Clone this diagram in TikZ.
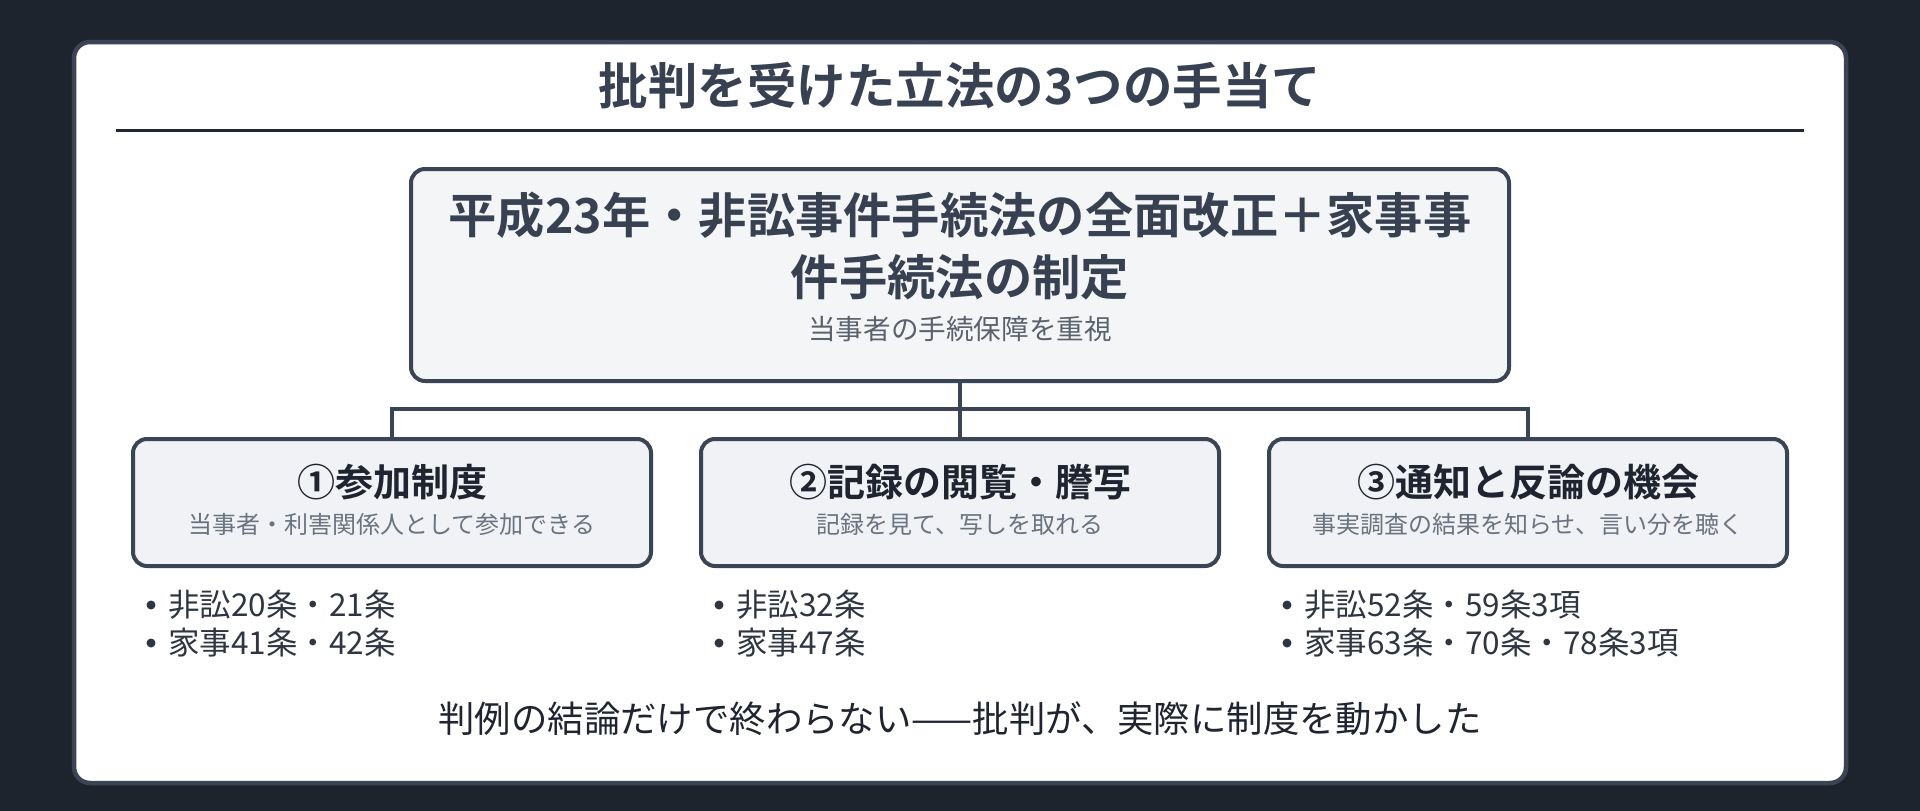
\documentclass[tikz,border=0pt]{standalone}
\usepackage{fontspec}
\setmainfont{Noto Sans CJK JP}[BoldFont={Noto Sans CJK JP Bold}]
\usetikzlibrary{arrows.meta}
\definecolor{bgc}{HTML}{1E242E}
\definecolor{edgec}{HTML}{3B4454}
\definecolor{topfill}{HTML}{F4F5F6}
\definecolor{childfill}{HTML}{F0F2F5}
\definecolor{titlec}{HTML}{374151}
\definecolor{headc}{HTML}{1F2430}
\definecolor{subc}{HTML}{6B7280}
\definecolor{itemc}{HTML}{2F3642}
\tikzset{
  card/.style={draw=edgec, fill=white, line width=4.5pt, rounded corners=16pt,
    minimum width=1772pt, minimum height=741pt, inner sep=0pt},
  topbox/.style={draw=edgec, fill=topfill, line width=4pt, rounded corners=14pt,
    minimum width=1098pt, minimum height=212pt, inner sep=0pt},
  childbox/.style={draw=edgec, fill=childfill, line width=4pt, rounded corners=14pt,
    minimum width=518pt, minimum height=127pt, inner sep=0pt},
  conn/.style={draw=edgec, line width=3.5pt},
  arr/.style={conn, -{Triangle[width=22pt,length=7pt]}, shorten >=-4pt},
  maintitle/.style={font=\fontsize{49.5}{59}\selectfont\bfseries, text=titlec, inner sep=0pt},
  toptext/.style={font=\fontsize{48.3}{58}\selectfont\bfseries, text=titlec, inner sep=0pt},
  topsub/.style={font=\fontsize{27.6}{33}\selectfont, text=subc!85!black, inner sep=0pt},
  childhead/.style={font=\fontsize{38}{46}\selectfont\bfseries, text=headc, inner sep=0pt},
  childsub/.style={font=\fontsize{24}{29}\selectfont, text=subc, inner sep=0pt},
  item/.style={font=\fontsize{31.5}{38}\selectfont, text=itemc, inner sep=0pt, anchor=west},
  footer/.style={font=\fontsize{36.4}{44}\selectfont, text=headc, inner sep=0pt},
  rule/.style={draw=headc!90!edgec, line width=3pt}
}
\begin{document}
\begin{tikzpicture}[x=1pt,y=-1pt]
\useasboundingbox (0,0) rectangle (1920,811);
\fill[bgc] (0,0) rectangle (1920,811);
\node[card] (card) at (960,412.5) {};
\node[maintitle] (title) at (960,86) {批判を受けた立法の3つの手当て};
\coordinate (ruleL) at (116,130);
\coordinate (ruleR) at (1804,130);
\draw[rule] (ruleL) -- (ruleR);

% connectors first, boxes drawn over them
\coordinate (topS) at (960,381);
\coordinate (hub) at (960,409);
\coordinate (c1N) at (392,439);
\coordinate (c2N) at (960,439);
\coordinate (c3N) at (1528,439);
\draw[conn] (topS) -- (hub);
\draw[arr] (hub) -| ([yshift=-2pt]c1N);
\draw[arr] (hub) -- ([yshift=-2pt]c2N);
\draw[arr] (hub) -| ([yshift=-2pt]c3N);

\node[topbox] (top) at (960,275) {};
\node[toptext] (topl1) at (960,215) {平成23年・非訟事件手続法の全面改正＋家事事};
\node[toptext] (topl2) at (960,277) {件手続法の制定};
\node[topsub] (topsub) at (960,329) {当事者の手続保障を重視};

\node[childbox] (c1) at (392,502.5) {};
\node[childbox] (c2) at (960,502.5) {};
\node[childbox] (c3) at (1528,502.5) {};

\node[childhead] (h1) at (392,482) {①参加制度};
\node[childsub] (s1) at (392,524) {当事者・利害関係人として参加できる};
\node[childhead] (h2) at (960,482) {②記録の閲覧・謄写};
\node[childsub] (s2) at (960,524) {記録を見て、写しを取れる};
\node[childhead] (h3) at (1528,482) {③通知と反論の機会};
\node[childsub] (s3) at (1528,524) {事実調査の結果を知らせ、言い分を聴く};

% bullet lists
\fill[itemc] (151,605) circle (4.5pt);
\node[item] (i11) at (168,605) {非訟20条・21条};
\fill[itemc] (151,643) circle (4.5pt);
\node[item] (i12) at (168,643) {家事41条・42条};
\fill[itemc] (719,605) circle (4.5pt);
\node[item] (i21) at (736,605) {非訟32条};
\fill[itemc] (719,643) circle (4.5pt);
\node[item] (i22) at (736,643) {家事47条};
\fill[itemc] (1287,605) circle (4.5pt);
\node[item] (i31) at (1304,605) {非訟52条・59条3項};
\fill[itemc] (1287,643) circle (4.5pt);
\node[item] (i32) at (1304,643) {家事63条・70条・78条3項};

\node[footer] (foot) at (960,719) {判例の結論だけで終わらない——批判が、実際に制度を動かした};
\end{tikzpicture}
\end{document}
